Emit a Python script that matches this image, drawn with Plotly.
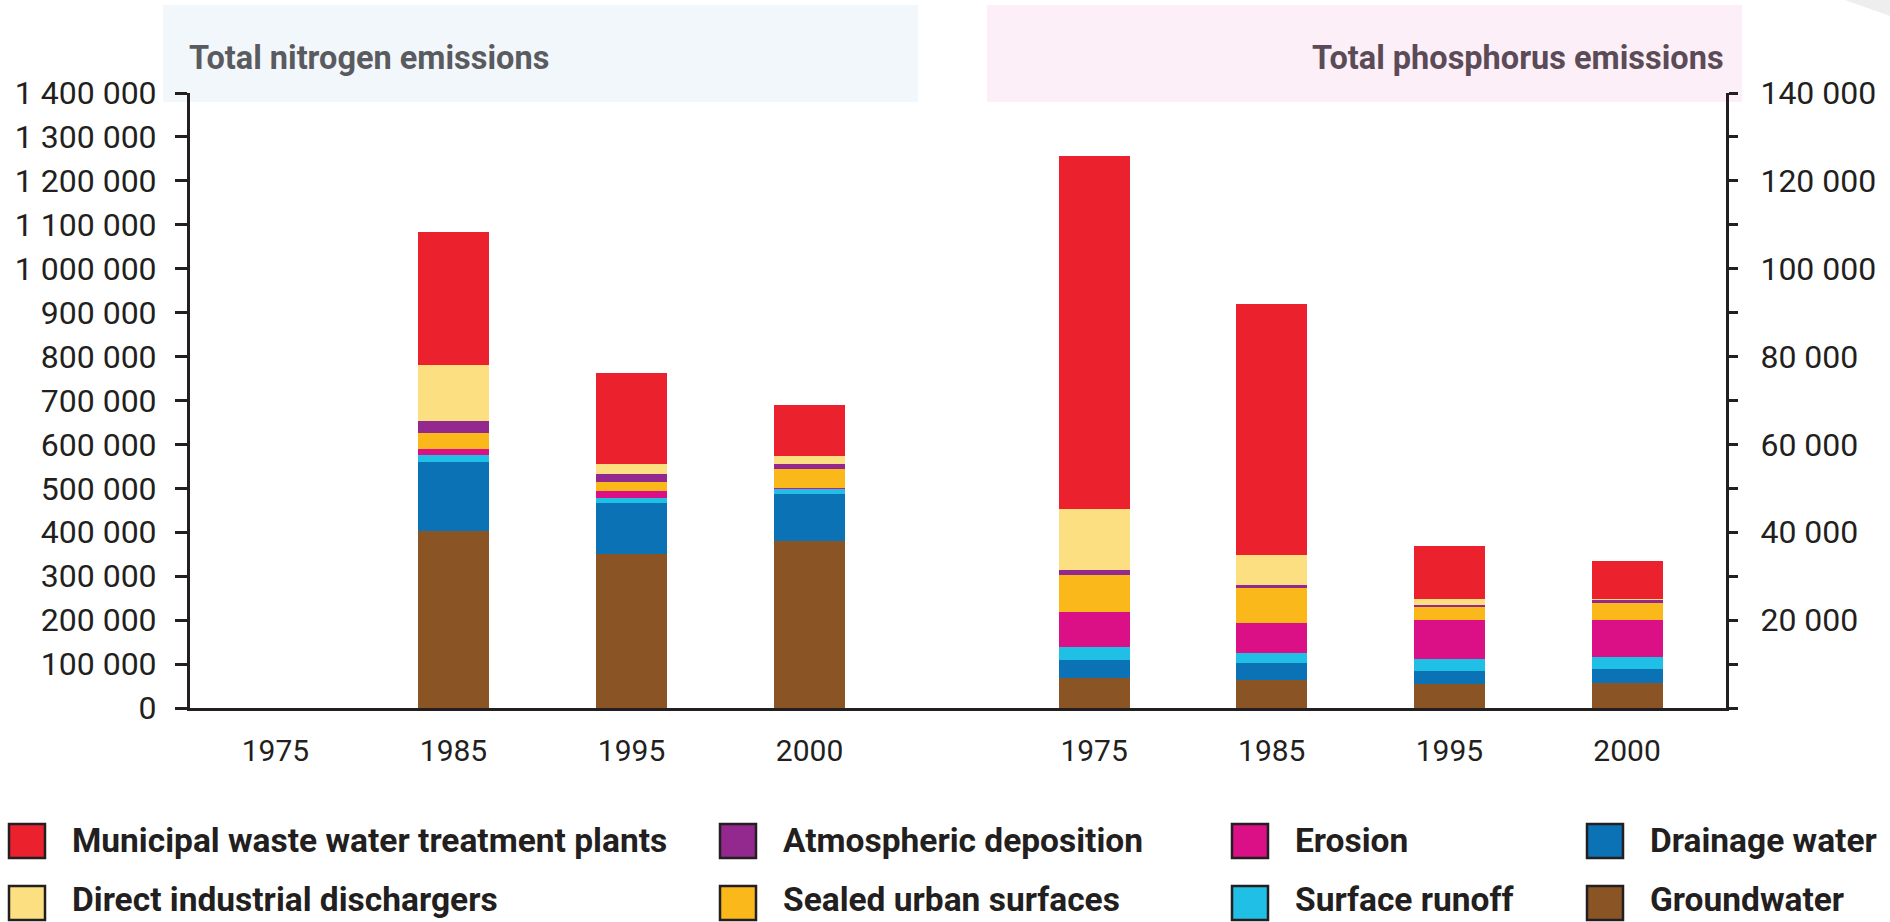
import plotly.graph_objects as go

# ---------------- data ----------------
years = ["1975", "1985", "1995", "2000"]

series_names = [
    "Groundwater",
    "Drainage water",
    "Surface runoff",
    "Erosion",
    "Sealed urban surfaces",
    "Atmospheric deposition",
    "Direct industrial dischargers",
    "Municipal waste water treatment plants",
]
series_colors = [
    "#8B5424", "#0B72B6", "#20BFE5", "#DB0F86",
    "#FBB81B", "#93288E", "#FCDF80", "#EB212E",
]

# Total nitrogen emissions (left axis)
nitrogen_groundwater = [None, 402000, 351000, 381000]
nitrogen_drainage = [None, 158000, 116000, 107000]
nitrogen_surface_runoff = [None, 15000, 11000, 12000]
nitrogen_erosion = [None, 14000, 16000, 1000]
nitrogen_sealed_urban = [None, 38000, 21000, 42000]
nitrogen_atmospheric = [None, 27000, 17000, 13000]
nitrogen_industrial = [None, 126000, 23000, 18000]
nitrogen_municipal = [None, 303000, 208000, 116000]

# Total phosphorus emissions (right axis)
phosphorus_groundwater = [6800, 6400, 5400, 5800]
phosphorus_drainage = [4100, 3800, 3100, 3000]
phosphorus_surface_runoff = [3000, 2300, 2700, 2700]
phosphorus_erosion = [7900, 6900, 8900, 8600]
phosphorus_sealed_urban = [8500, 7900, 3000, 3700]
phosphorus_atmospheric = [1100, 600, 400, 800]
phosphorus_industrial = [13900, 6900, 1300, 300]
phosphorus_municipal = [80400, 57200, 12000, 8500]

nitrogen_series = [
    nitrogen_groundwater, nitrogen_drainage, nitrogen_surface_runoff,
    nitrogen_erosion, nitrogen_sealed_urban, nitrogen_atmospheric,
    nitrogen_industrial, nitrogen_municipal,
]
phosphorus_series = [
    phosphorus_groundwater, phosphorus_drainage, phosphorus_surface_runoff,
    phosphorus_erosion, phosphorus_sealed_urban, phosphorus_atmospheric,
    phosphorus_industrial, phosphorus_municipal,
]

phosphorus_tick_values = [20000, 40000, 60000, 80000, 100000, 120000, 140000]

# legend layout: columns as in the original
legend_columns = [
    ["Municipal waste water treatment plants", "Direct industrial dischargers"],
    ["Atmospheric deposition", "Sealed urban surfaces"],
    ["Erosion", "Surface runoff"],
    ["Drainage water", "Groundwater"],
]

# ---------------- style ----------------
FONT = "Roboto, Liberation Sans, sans-serif"
INK = "#231F20"
W, H = 1890, 922
ML, MR, MT, MB = 190, 164, 93, 214
PW, PH = W - ML - MR, H - MT - MB


def px_x(x):
    return (x - ML) / PW


def px_y(y):
    return (H - MB - y) / PH


fig = go.Figure()

for name, color, vals in zip(series_names, series_colors, nitrogen_series):
    fig.add_trace(go.Bar(
        x=years, y=vals, name=name, marker=dict(color=color, line=dict(width=0)),
        width=0.4, xaxis="x", yaxis="y", showlegend=False,
    ))
for name, color, vals in zip(series_names, series_colors, phosphorus_series):
    fig.add_trace(go.Bar(
        x=years, y=vals, name=name, marker=dict(color=color, line=dict(width=0)),
        width=0.4, xaxis="x2", yaxis="y2", showlegend=False,
    ))

split = px_x(952)

shapes = [
    # header panels
    dict(type="rect", xref="paper", yref="paper", layer="below",
         x0=px_x(163), x1=px_x(918), y0=px_y(102), y1=px_y(5),
         fillcolor="#F2F7FB", line=dict(width=0)),
    dict(type="rect", xref="paper", yref="paper", layer="below",
         x0=px_x(987), x1=px_x(1742), y0=px_y(102), y1=px_y(5),
         fillcolor="#FDEFF7", line=dict(width=0)),
    # page corner decoration
    dict(type="path", xref="paper", yref="paper", layer="below",
         path="M {} {} L {} {} L {} {} Z".format(px_x(1845), px_y(0), px_x(1890), px_y(0), px_x(1890), px_y(16)),
         fillcolor="#EEEEEE", line=dict(width=0)),
]

annotations = [
    dict(xref="paper", yref="paper", x=px_x(187), y=px_y(58), xanchor="left", yanchor="middle",
         text="Total nitrogen emissions", showarrow=False,
         font=dict(family=FONT, size=32.5, color="#5A5B5F", weight="bold")),
    dict(xref="paper", yref="paper", x=px_x(1726), y=px_y(58), xanchor="right", yanchor="middle",
         text="Total phosphorus emissions", showarrow=False,
         font=dict(family=FONT, size=32.5, color="#5B4B57", weight="bold")),
]

color_of = dict(zip(series_names, series_colors))
col_square_left = [9, 720, 1232, 1587]
square_centers = [841, 903]
text_centers = [840, 899]
for ci, col in enumerate(legend_columns):
    for ri, name in enumerate(col):
        x0 = col_square_left[ci]
        yc = square_centers[ri]
        shapes.append(dict(
            type="rect", xref="paper", yref="paper",
            x0=px_x(x0), x1=px_x(x0 + 36), y0=px_y(yc + 17), y1=px_y(yc - 17),
            fillcolor=color_of[name], line=dict(color=INK, width=2.5)))
        annotations.append(dict(
            xref="paper", yref="paper", x=px_x(x0 + 62), y=px_y(text_centers[ri]),
            xanchor="left", yanchor="middle", borderpad=0,
            text=name, showarrow=False,
            font=dict(family=FONT, size=33.5, color=INK, weight="bold")))

x_font = dict(family=FONT, size=30, color=INK)
y_font = dict(family=FONT, size=32, color=INK)

common_x = dict(showline=True, linewidth=3, linecolor=INK, ticks="", showgrid=False,
                tickfont=x_font, zeroline=False, automargin=False, type="category",
                ticklabelstandoff=14)

fig.update_layout(
    width=W, height=H,
    margin=dict(l=ML, r=MR, t=MT, b=MB, pad=0, autoexpand=False),
    paper_bgcolor="white", plot_bgcolor="rgba(0,0,0,0)",
    barmode="stack",
    separators=". ",
    showlegend=False,
    shapes=shapes,
    annotations=annotations,
    xaxis=dict(domain=[0, split], range=[-0.48, 3.8], anchor="y", **common_x),
    xaxis2=dict(domain=[split, 1], range=[-0.8, 3.557], anchor="y2", **common_x),
    yaxis=dict(range=[0, 1400000], dtick=100000, tick0=0, tickformat=",d",
               anchor="x", side="left", showline=True, linewidth=3, linecolor=INK,
               ticks="outside", ticklen=12, tickwidth=3, tickcolor=INK, automargin=False,
               showgrid=False, zeroline=False, tickfont=y_font, ticklabelstandoff=12),
    yaxis2=dict(range=[0, 140000], tickmode="array", tickvals=phosphorus_tick_values, tickformat=",d",
                anchor="x2", side="right", showline=True, linewidth=3, linecolor=INK,
                ticks="outside", ticklen=9, tickwidth=3, tickcolor=INK, automargin=False,
                minor=dict(ticks="outside", dtick=10000, tick0=0, ticklen=9, tickwidth=3, tickcolor=INK),
                showgrid=False, zeroline=False, tickfont=y_font, ticklabelstandoff=16),
)

fig.write_html("out.html")
